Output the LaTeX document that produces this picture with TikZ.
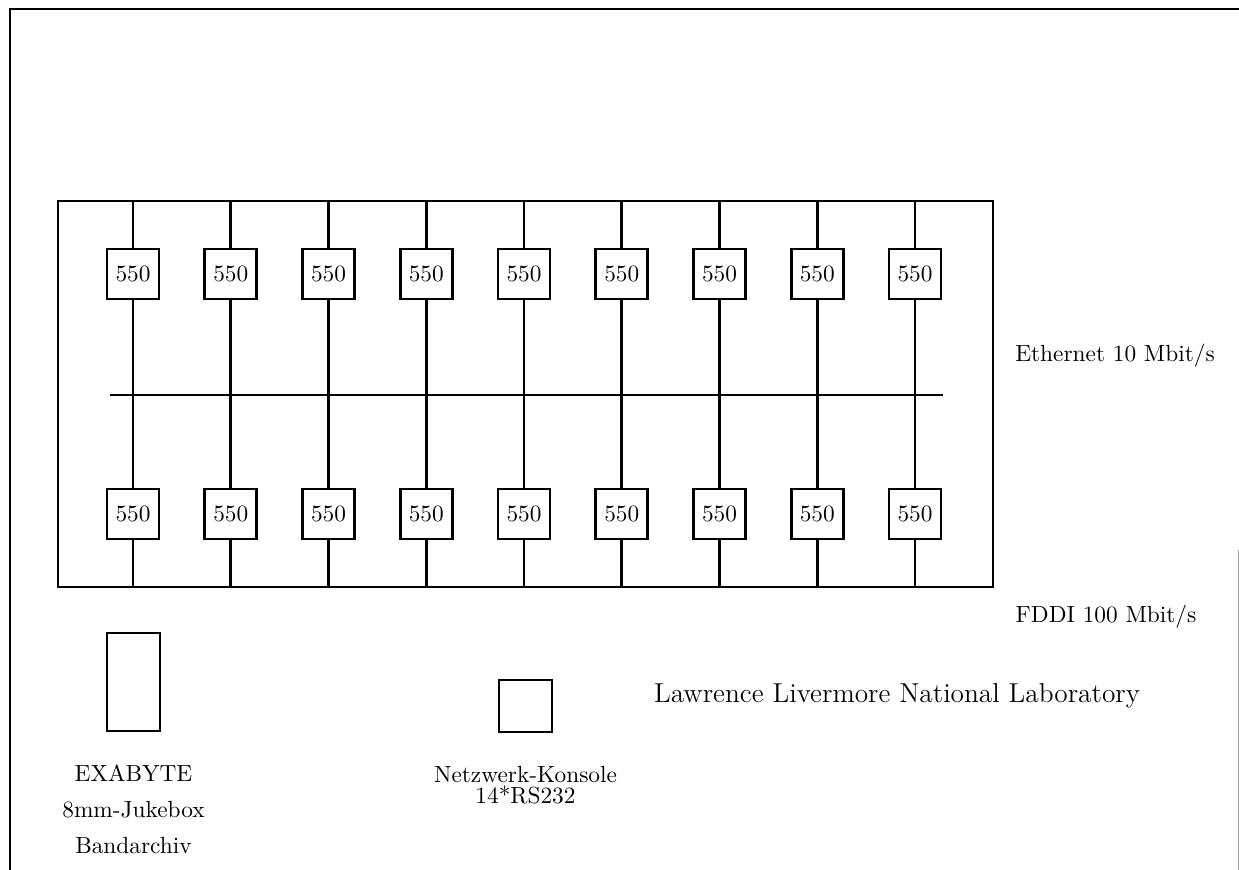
\documentclass[tikz,border=0pt]{standalone}
\usetikzlibrary{positioning}

\begin{document}
\begin{tikzpicture}[x=0.45pt, y=-0.45pt, line width=1.3pt,
    font=\fontsize{10.5}{12.6}\selectfont,
    station/.style={draw, rectangle, inner sep=0pt, minimum width=23.4pt, minimum height=22.5pt},
    lbl/.style={inner sep=0pt, align=center}]
\useasboundingbox (0,0) rectangle (1239,870);
% page frame
\draw (10,870) -- (10,9) -- (1239,9);
\draw[line width=0.4pt, black!35] (1238,550) -- (1238,870);
% FDDI ring
\draw (58,201) rectangle (993,587);
% Ethernet
\coordinate (ethw) at (110,395);
\coordinate (ethe) at (943,395);
\draw (ethw) -- (ethe);
\foreach \i in {1,...,9} {
  \pgfmathsetmacro{\xpos}{133+97.75*(\i-1)}
  \coordinate (top\i) at (\xpos,201);
  \coordinate (bot\i) at (\xpos,587);
  \node[station] (up\i) at (\xpos,274) {550};
  \node[station] (lo\i) at (\xpos,514) {550};
  \draw (top\i) -- (up\i) -- (lo\i) -- (bot\i);
}
\node[lbl] (eth) at (1115,356) {Ethernet 10 Mbit/s};
\node[lbl] (fddi) at (1106,617) {FDDI 100 Mbit/s};
% Jukebox and Konsole
\node[station, minimum width=23.85pt, minimum height=44.1pt] (jukebox) at (133.5,682) {};
\node[lbl, below=14pt of jukebox] (jukelbl) {EXABYTE\\[3.5pt]8mm-Jukebox\\[3.5pt]Bandarchiv};
\node[station, minimum width=23.85pt, minimum height=23.4pt] (console) at (525.5,706) {};
\node[lbl, below=14pt of console] (conslbl) {Netzwerk-Konsole\\[-3pt]14*RS232};
\node[lbl, font=\fontsize{12.3}{14.8}\selectfont] (llnl) at (897,696) {Lawrence Livermore National Laboratory};
\end{tikzpicture}
\end{document}
